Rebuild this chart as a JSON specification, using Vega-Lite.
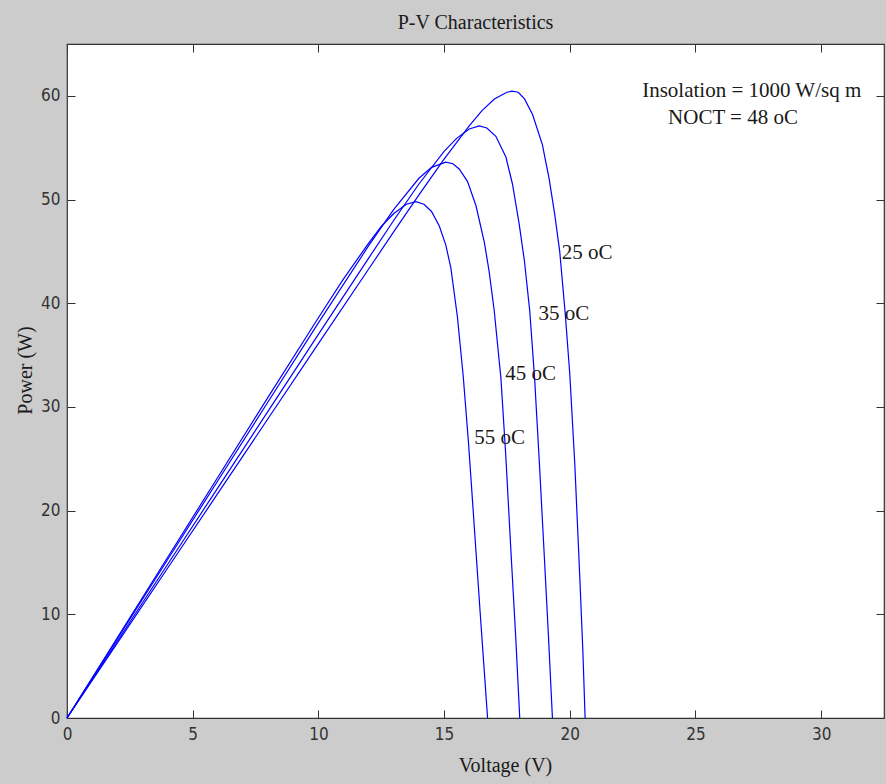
{
  "$schema": "https://vega.github.io/schema/vega-lite/v6.json",
  "width": 817,
  "height": 674,
  "autosize": "none",
  "padding": {"left": 67, "top": 44, "right": 2, "bottom": 66},
  "background": "#cccccc",
  "title": {
    "text": "P-V Characteristics",
    "font": "Liberation Serif",
    "fontSize": 20,
    "fontWeight": "normal",
    "color": "#1a1a1a",
    "anchor": "middle",
    "baseline": "alphabetic",
    "offset": 14,
    "dy": 19
  },
  "config": {
    "view": {"fill": "white", "stroke": "#333333", "strokeWidth": 1.2},
    "axis": {
      "domain": false,
      "grid": false,
      "tickColor": "#333333",
      "tickWidth": 1,
      "labelFont": "DejaVu Sans Condensed, Liberation Sans, sans-serif",
      "labelFontSize": 17,
      "labelColor": "#333333",
      "labelFlush": false,
      "labelOverlap": false,
      "labelBound": false,
      "titleFont": "Liberation Serif",
      "titleFontSize": 20,
      "titleFontWeight": "normal",
      "titleColor": "#1a1a1a"
    }
  },
  "datasets": {
    "curves": [
      {"T": "25 oC", "V": 0, "P": 0}, {"T": "25 oC", "V": 2, "P": 7.22}, {"T": "25 oC", "V": 4, "P": 14.44}, {"T": "25 oC", "V": 6, "P": 21.66}, {"T": "25 oC", "V": 8, "P": 28.88}, {"T": "25 oC", "V": 10, "P": 36.1}, {"T": "25 oC", "V": 12, "P": 43.3}, {"T": "25 oC", "V": 13, "P": 46.9}, {"T": "25 oC", "V": 14, "P": 50.45}, {"T": "25 oC", "V": 15, "P": 53.9}, {"T": "25 oC", "V": 16, "P": 57.1}, {"T": "25 oC", "V": 16.5, "P": 58.55}, {"T": "25 oC", "V": 17, "P": 59.7}, {"T": "25 oC", "V": 17.5, "P": 60.35}, {"T": "25 oC", "V": 17.7, "P": 60.45}, {"T": "25 oC", "V": 17.95, "P": 60.35}, {"T": "25 oC", "V": 18.2, "P": 59.7}, {"T": "25 oC", "V": 18.52, "P": 58.2}, {"T": "25 oC", "V": 18.91, "P": 55.3}, {"T": "25 oC", "V": 19.18, "P": 52.0}, {"T": "25 oC", "V": 19.4, "P": 48.6}, {"T": "25 oC", "V": 19.6, "P": 45.0}, {"T": "25 oC", "V": 19.82, "P": 39.0}, {"T": "25 oC", "V": 20.0, "P": 33.2}, {"T": "25 oC", "V": 20.2, "P": 24.5}, {"T": "25 oC", "V": 20.4, "P": 13.5}, {"T": "25 oC", "V": 20.52, "P": 6.5}, {"T": "25 oC", "V": 20.61, "P": 0},
      {"T": "35 oC", "V": 0, "P": 0}, {"T": "35 oC", "V": 2, "P": 7.4}, {"T": "35 oC", "V": 4, "P": 14.8}, {"T": "35 oC", "V": 6, "P": 22.2}, {"T": "35 oC", "V": 8, "P": 29.6}, {"T": "35 oC", "V": 10, "P": 37.0}, {"T": "35 oC", "V": 12, "P": 44.35}, {"T": "35 oC", "V": 13, "P": 48.0}, {"T": "35 oC", "V": 14, "P": 51.5}, {"T": "35 oC", "V": 15, "P": 54.65}, {"T": "35 oC", "V": 15.5, "P": 55.9}, {"T": "35 oC", "V": 16, "P": 56.8}, {"T": "35 oC", "V": 16.4, "P": 57.1}, {"T": "35 oC", "V": 16.7, "P": 56.9}, {"T": "35 oC", "V": 17.06, "P": 56.1}, {"T": "35 oC", "V": 17.46, "P": 54.1}, {"T": "35 oC", "V": 17.72, "P": 51.5}, {"T": "35 oC", "V": 17.99, "P": 47.6}, {"T": "35 oC", "V": 18.2, "P": 44.0}, {"T": "35 oC", "V": 18.41, "P": 39.2}, {"T": "35 oC", "V": 18.6, "P": 32.8}, {"T": "35 oC", "V": 18.8, "P": 24.2}, {"T": "35 oC", "V": 19.0, "P": 15.0}, {"T": "35 oC", "V": 19.15, "P": 8.0}, {"T": "35 oC", "V": 19.31, "P": 0},
      {"T": "45 oC", "V": 0, "P": 0}, {"T": "45 oC", "V": 2, "P": 7.63}, {"T": "45 oC", "V": 4, "P": 15.26}, {"T": "45 oC", "V": 6, "P": 22.88}, {"T": "45 oC", "V": 8, "P": 30.5}, {"T": "45 oC", "V": 10, "P": 38.1}, {"T": "45 oC", "V": 12, "P": 45.55}, {"T": "45 oC", "V": 13, "P": 49.05}, {"T": "45 oC", "V": 14, "P": 52.05}, {"T": "45 oC", "V": 14.5, "P": 53.1}, {"T": "45 oC", "V": 15.07, "P": 53.6}, {"T": "45 oC", "V": 15.35, "P": 53.45}, {"T": "45 oC", "V": 15.6, "P": 52.95}, {"T": "45 oC", "V": 15.93, "P": 51.75}, {"T": "45 oC", "V": 16.27, "P": 49.4}, {"T": "45 oC", "V": 16.6, "P": 45.9}, {"T": "45 oC", "V": 16.79, "P": 43.1}, {"T": "45 oC", "V": 16.99, "P": 39.4}, {"T": "45 oC", "V": 17.26, "P": 32.8}, {"T": "45 oC", "V": 17.45, "P": 25.5}, {"T": "45 oC", "V": 17.65, "P": 16.5}, {"T": "45 oC", "V": 17.85, "P": 7.8}, {"T": "45 oC", "V": 18.01, "P": 0},
      {"T": "55 oC", "V": 0, "P": 0}, {"T": "55 oC", "V": 2, "P": 7.74}, {"T": "55 oC", "V": 4, "P": 15.48}, {"T": "55 oC", "V": 6, "P": 23.22}, {"T": "55 oC", "V": 8, "P": 30.95}, {"T": "55 oC", "V": 10, "P": 38.6}, {"T": "55 oC", "V": 11, "P": 42.35}, {"T": "55 oC", "V": 12, "P": 45.8}, {"T": "55 oC", "V": 12.5, "P": 47.4}, {"T": "55 oC", "V": 13, "P": 48.65}, {"T": "55 oC", "V": 13.5, "P": 49.55}, {"T": "55 oC", "V": 13.88, "P": 49.8}, {"T": "55 oC", "V": 14.2, "P": 49.55}, {"T": "55 oC", "V": 14.5, "P": 48.85}, {"T": "55 oC", "V": 14.81, "P": 47.45}, {"T": "55 oC", "V": 15.07, "P": 45.6}, {"T": "55 oC", "V": 15.27, "P": 43.4}, {"T": "55 oC", "V": 15.53, "P": 38.7}, {"T": "55 oC", "V": 15.76, "P": 33.0}, {"T": "55 oC", "V": 15.97, "P": 26.6}, {"T": "55 oC", "V": 16.2, "P": 18.5}, {"T": "55 oC", "V": 16.44, "P": 10.0}, {"T": "55 oC", "V": 16.6, "P": 4.5}, {"T": "55 oC", "V": 16.73, "P": 0}
    ],
    "labels": [
      {"V": 19.68, "P": 44.8, "text": "25 oC"},
      {"V": 18.76, "P": 39.0, "text": "35 oC"},
      {"V": 17.43, "P": 33.2, "text": "45 oC"},
      {"V": 16.2, "P": 27.0, "text": "55 oC"},
      {"V": 22.88, "P": 60.45, "text": "Insolation = 1000 W/sq m"},
      {"V": 23.91, "P": 57.9, "text": "NOCT = 48 oC"}
    ]
  },
  "layer": [
    {
      "data": {"name": "curves"},
      "mark": {"type": "line", "color": "#0000ff", "strokeWidth": 1.2},
      "encoding": {
        "x": {
          "field": "V", "type": "quantitative",
          "scale": {"domain": [0, 32.5], "nice": false, "zero": false},
          "axis": {
            "orient": "bottom", "values": [0, 5, 10, 15, 20, 25, 30],
            "tickSize": -8, "labelPadding": 16,
            "title": "Voltage (V)", "titleX": 438, "titleY": 47, "titleBaseline": "middle", "titleAnchor": "start", "titleAlign": "center"
          }
        },
        "y": {
          "field": "P", "type": "quantitative",
          "scale": {"domain": [0, 65], "nice": false, "zero": false},
          "axis": {
            "orient": "left", "values": [0, 10, 20, 30, 40, 50, 60],
            "tickSize": -8, "labelPadding": 15,
            "title": "Power (W)", "titleX": -42, "titleY": 326, "titleBaseline": "middle", "titleAngle": -90, "titleAlign": "center", "titleAnchor": "start"
          }
        },
        "detail": {"field": "T", "type": "nominal"}
      }
    },
    {
      "data": {"name": "curves"},
      "mark": {"type": "line", "strokeOpacity": 0},
      "encoding": {
        "x": {
          "field": "V", "type": "quantitative",
          "axis": {"orient": "top", "values": [0, 5, 10, 15, 20, 25, 30], "tickSize": -8, "labels": false, "title": null}
        },
        "y": {
          "field": "P", "type": "quantitative",
          "axis": {"orient": "right", "values": [0, 10, 20, 30, 40, 50, 60], "tickSize": -8, "labels": false, "title": null}
        },
        "detail": {"field": "T", "type": "nominal"}
      }
    },
    {
      "data": {"name": "labels"},
      "mark": {"type": "text", "align": "left", "baseline": "middle", "font": "Liberation Serif", "fontSize": 21, "color": "#1a1a1a"},
      "encoding": {
        "x": {"field": "V", "type": "quantitative", "axis": null},
        "y": {"field": "P", "type": "quantitative", "axis": null},
        "text": {"field": "text", "type": "nominal"}
      }
    }
  ],
  "resolve": {"axis": {"x": "independent", "y": "independent"}}
}
